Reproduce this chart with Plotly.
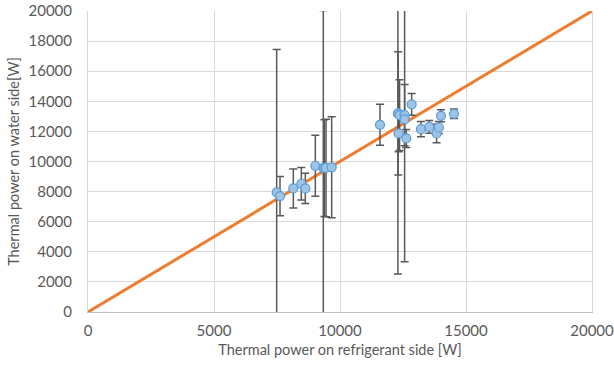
import plotly.graph_objects as go

# Measured thermal power: refrigerant side (x) vs water side (y), with water-side uncertainty
refrigerant_w = [
    7487, 7619, 8148, 8465, 8624, 9021, 9337, 9380, 9445, 9670,
    11587, 12298, 12310, 12365, 12325, 12564, 12564, 12631, 12843,
    13212, 13543, 13833, 13924, 14007, 14523,
]
water_w = [
    7948, 7702, 8212, 8520, 8212, 9716, 9580, 9560, 9570, 9615,
    12440, 13190, 13200, 13080, 11865, 13080, 12795, 11530, 13790,
    12150, 12300, 11860, 12260, 13035, 13170,
]
water_err_w = [
    9490, 1300, 1295, 1080, 1000, 2030, 10450, 3210, 3240, 3355,
    1360, 10670, 4100, 2350, 1225, 2040, 9455, 600, 720,
    500, 420, 620, 400, 400, 320,
]

# Reference line y = x
parity_x = [0, 20000]
parity_y = [0, 20000]

x_ticks = [0, 5000, 10000, 15000, 20000]
y_ticks = [0, 2000, 4000, 6000, 8000, 10000, 12000, 14000, 16000, 18000, 20000]

FONT = "Lato"
TEXT = "#595959"
GRID = "#d9d9d9"

fig = go.Figure()

fig.add_trace(go.Scatter(
    x=parity_x, y=parity_y, mode="lines",
    line=dict(color="#ed7d31", width=3),
    hoverinfo="skip", showlegend=False,
))

fig.add_trace(go.Scatter(
    x=refrigerant_w, y=water_w, mode="markers",
    marker=dict(size=9, color="#9dc3e6", line=dict(color="#5b9bd5", width=1.2)),
    error_y=dict(type="data", array=water_err_w, visible=True,
                 color="#595959", thickness=1.5, width=4),
    showlegend=False,
))

fig.update_layout(
    width=614, height=371,
    margin=dict(l=88, r=22, t=11, b=59),
    paper_bgcolor="white", plot_bgcolor="white",
    font=dict(family=FONT, color=TEXT, size=15),
)

fig.update_xaxes(
    range=[0, 20000], tickvals=x_ticks, ticktext=[str(v) for v in x_ticks],
    showgrid=True, gridcolor=GRID, gridwidth=1, zeroline=False,
    showline=True, linecolor="#bfbfbf", linewidth=1, mirror=False,
    ticks="", ticklabelstandoff=5, automargin=False,
    ticklabeloverflow="allow",
    tickfont=dict(size=15, color=TEXT),
    title=dict(text="Thermal power on refrigerant side [W]", font=dict(size=14.5, color=TEXT), standoff=6),
)
fig.update_yaxes(
    range=[0, 20000], tickvals=y_ticks, ticktext=[str(v) for v in y_ticks],
    showgrid=True, gridcolor=GRID, gridwidth=1, zeroline=False,
    showline=True, linecolor=GRID, linewidth=1, mirror=True, automargin=False,
    ticks="", ticklabelstandoff=12,
    tickfont=dict(size=15, color=TEXT),
    title=dict(text="Thermal power on water side[W]", font=dict(size=14.5, color=TEXT), standoff=5),
)

fig.write_html("out.html")
